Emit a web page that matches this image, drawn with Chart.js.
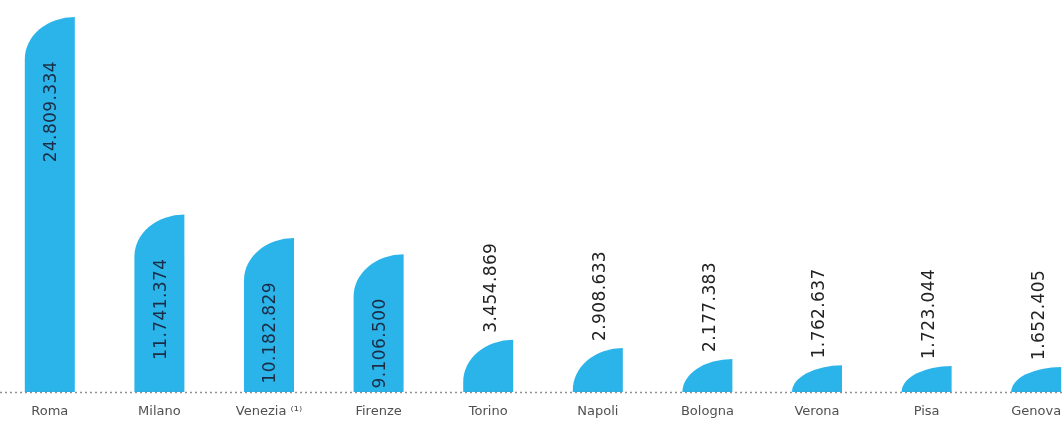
<!DOCTYPE html>
<html>
<head>
<meta charset="utf-8">
<script src="https://cdn.jsdelivr.net/npm/chart.js@4/dist/chart.umd.min.js"></script>
<style>
  html, body { margin: 0; padding: 0; background: #fff; overflow: hidden; width: 1063px; height: 421px; }
  #wrap { position: absolute; left: -5px; top: 0; width: 1096px; height: 421px; }
</style>
</head>
<body>
<div id="wrap"><canvas id="myChart" width="1096" height="421"></canvas></div>
<script>
const cities = ["Roma", "Milano", "Venezia \u207D\u00B9\u207E", "Firenze", "Torino", "Napoli", "Bologna", "Verona", "Pisa", "Genova"];
const visitors = [24809334, 11741374, 10182829, 9106500, 3454869, 2908633, 2177383, 1762637, 1723044, 1652405];

const barColor = "#2bb4ea";

function fmt(v) {
  return String(v).replace(/\B(?=(\d{3})+(?!\d))/g, ".");
}

// bars with an elliptical top-left corner + vertical value labels
const shapedBars = {
  id: "shapedBars",
  afterDatasetsDraw(chart) {
    const ctx = chart.ctx;
    const meta = chart.getDatasetMeta(0);
    ctx.save();
    meta.data.forEach(function(bar, i) {
      const p = bar.getProps(["x", "y", "base", "width"], true);
      const left = p.x - p.width / 2;
      const right = p.x + p.width / 2;
      const h = p.base - p.y;
      const ry = Math.min(h, 42);
      ctx.beginPath();
      ctx.moveTo(left, p.base);
      ctx.lineTo(left, p.y + ry);
      ctx.ellipse(right, p.y + ry, p.width, ry, 0, Math.PI, 1.5 * Math.PI);
      ctx.lineTo(right, p.base);
      ctx.closePath();
      ctx.fillStyle = barColor;
      ctx.fill();

      const txt = fmt(visitors[i]);
      ctx.save();
      ctx.font = "17px 'DejaVu Sans'";
      ctx.letterSpacing = "0.4px";
      ctx.textBaseline = "middle";
      if (h > 120) {
        ctx.translate(p.x + 2, p.y + 44);
        ctx.rotate(-Math.PI / 2);
        ctx.textAlign = "right";
        ctx.fillStyle = "#1b2c44";
      } else {
        ctx.translate(p.x + 3, p.y - 7);
        ctx.rotate(-Math.PI / 2);
        ctx.textAlign = "left";
        ctx.fillStyle = "#222";
      }
      ctx.fillText(txt, 0, 0);
      ctx.restore();
    });

    // dotted baseline over the bars
    const area = chart.chartArea;
    ctx.beginPath();
    ctx.setLineDash([2, 3]);
    ctx.lineWidth = 1.5;
    ctx.strokeStyle = "rgba(110,110,110,0.75)";
    ctx.moveTo(area.left, area.bottom + 0.5);
    ctx.lineTo(area.right, area.bottom + 0.5);
    ctx.stroke();
    ctx.restore();
  }
};

const ctx = document.getElementById("myChart").getContext("2d");
const myChart = new Chart(ctx, {
  type: "bar",
  data: {
    labels: cities,
    datasets: [{
      data: visitors,
      backgroundColor: "rgba(0,0,0,0)",
      borderWidth: 0,
      barThickness: 50
    }]
  },
  options: {
    responsive: false,
    animation: false,
    devicePixelRatio: 1,
    layout: { padding: { top: 17, bottom: 0, left: 0, right: 0 } },
    plugins: { legend: { display: false }, tooltip: { enabled: false } },
    scales: {
      x: {
        grid: { display: false, drawTicks: false },
        border: { display: false },
        ticks: { color: "#505050", font: { family: "'DejaVu Sans'", size: 13 }, padding: 12, maxRotation: 0, autoSkip: false },
        afterFit(scale) { scale.height = 29; }
      },
      y: {
        display: false,
        min: 0,
        max: 24809334
      }
    }
  },
  plugins: [shapedBars]
});
</script>
</body>
</html>
